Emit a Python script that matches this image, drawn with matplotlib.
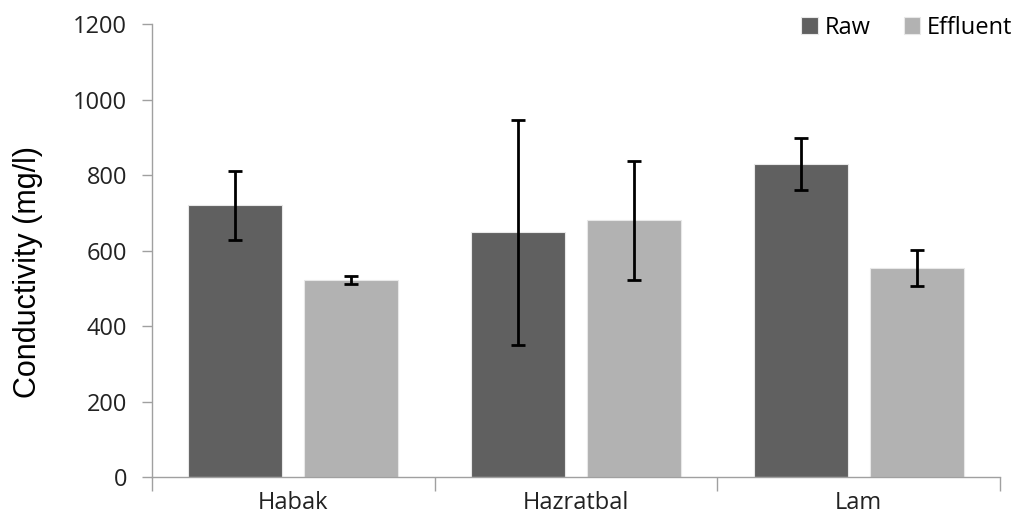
import numpy as np
import matplotlib
matplotlib.use("Agg")
from matplotlib import pyplot as plt

sites = ["Habak", "Hazratbal", "Lam"]
raw = [720, 649, 829]
raw_err = [92, 298, 69]
effluent = [522, 680, 553]
effluent_err = [10, 158, 48]

plt.rcParams['font.family'] = ['Open Sans', 'DejaVu Sans']

fig = plt.figure(figsize=(10.16, 5.25), dpi=100)
ax = fig.add_axes([0.1496, 0.0914, 0.8346, 0.8626])

x = np.arange(len(sites))
w = 0.333
off = 0.205
ax.bar(x - off, raw, w, color="#606060", edgecolor="#e8e8e8", linewidth=0.8, label="Raw")
ax.bar(x + off, effluent, w, color="#b2b2b2", edgecolor="#e8e8e8", linewidth=0.8, label="Effluent")
ax.errorbar(x - off, raw, yerr=raw_err, fmt="none", ecolor="black", elinewidth=2, capsize=5, capthick=2)
ax.errorbar(x + off, effluent, yerr=effluent_err, fmt="none", ecolor="black", elinewidth=2, capsize=5, capthick=2)

ax.set_xlim(-0.5, len(sites) - 0.5)
ax.set_ylim(0, 1200)
ax.set_yticks(range(0, 1201, 200))

# category boundaries get the tick marks, names sit in the middle
ax.set_xticks(np.arange(-0.5, len(sites), 1.0))
ax.set_xticklabels([])
ax.set_xticks(x, minor=True)
ax.set_xticklabels(sites, minor=True, fontsize=17, color="#222222")
ax.tick_params(axis="x", which="major", length=10, color="#a0a0a0", width=1)
ax.tick_params(axis="x", which="minor", length=0, pad=10)
ax.tick_params(axis="y", length=7, color="#a0a0a0", width=1, labelsize=17, labelcolor="#222222", pad=11)

for s in ["top", "right"]:
    ax.spines[s].set_visible(False)
for s in ["left", "bottom"]:
    ax.spines[s].set_color("#a0a0a0")
    ax.spines[s].set_linewidth(1)

ax.set_ylabel("Conductivity (mg/l)", fontsize=22, family=["Liberation Sans", "DejaVu Sans"])
ax.yaxis.set_label_coords(-0.128, 0.453)

ax.legend(loc="upper right", bbox_to_anchor=(1.04, 1.065), ncol=2, frameon=False, fontsize=17,
          handlelength=0.7, handleheight=0.7, handletextpad=0.3, columnspacing=1.4)

plt.savefig("out.png", dpi=100)
